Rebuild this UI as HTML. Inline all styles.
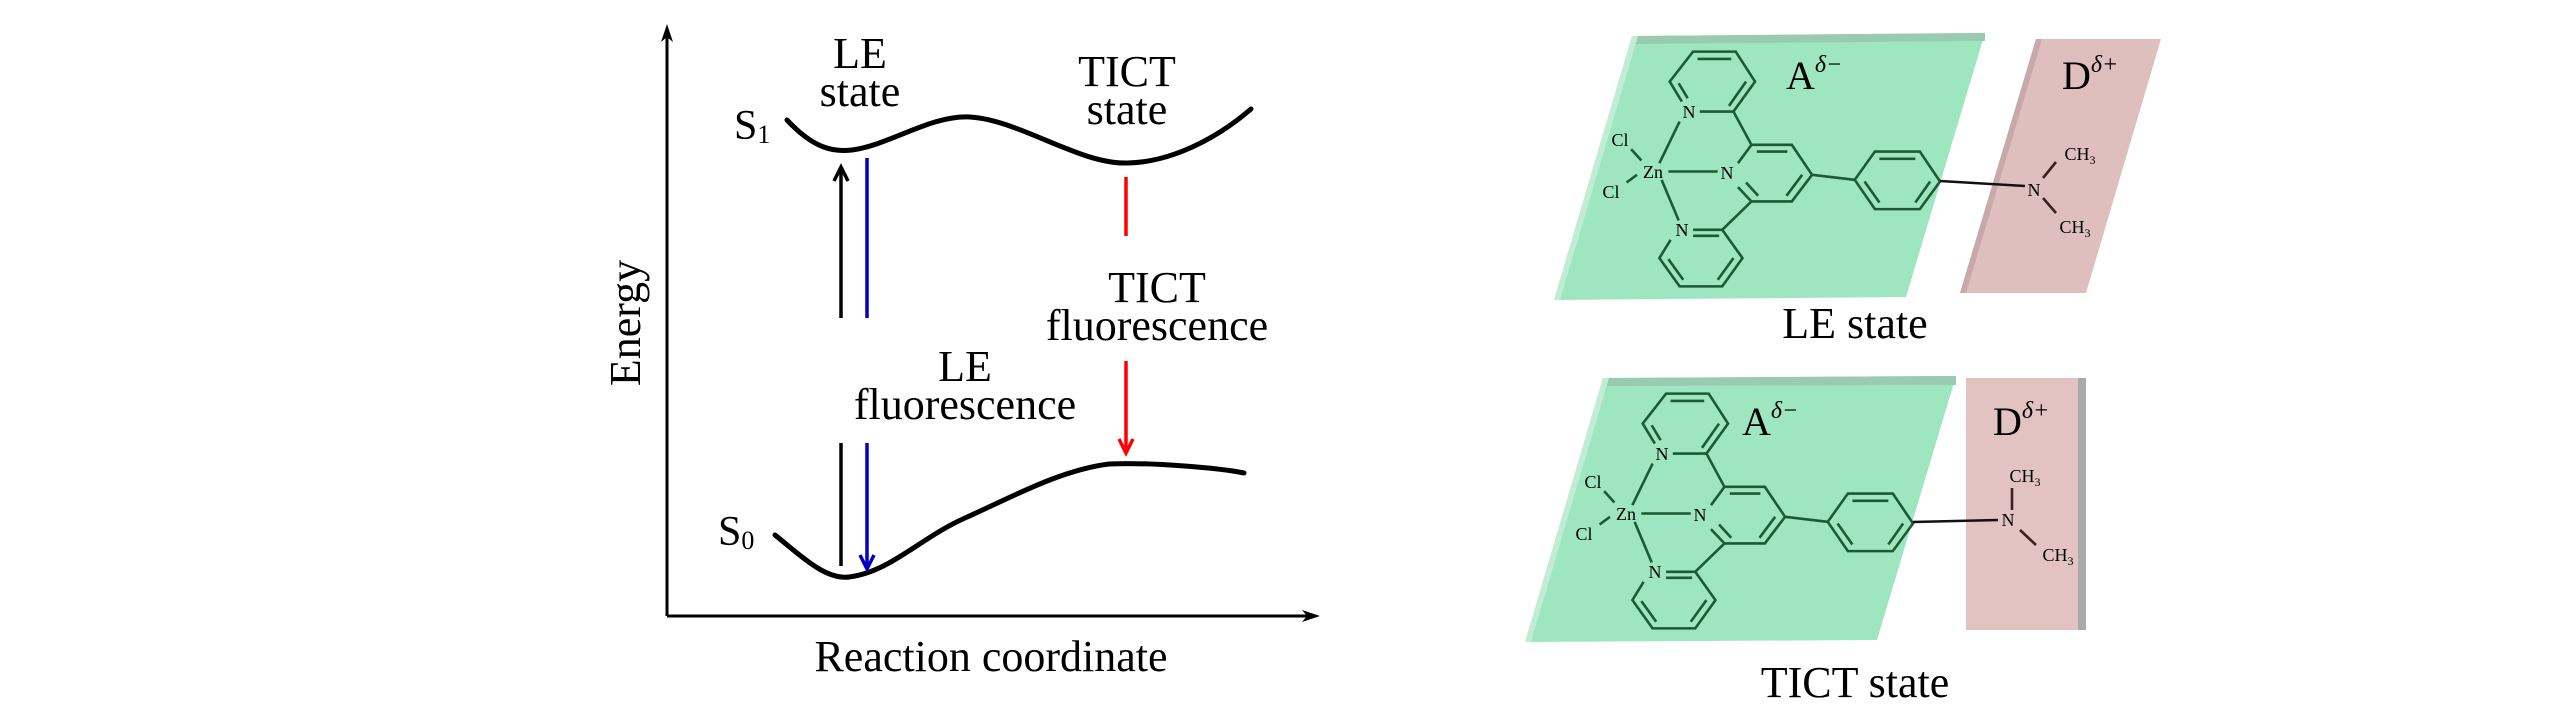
<!DOCTYPE html>
<html><head><meta charset="utf-8"><style>
html,body{margin:0;padding:0;background:#fff;}
svg{display:block;}
text{font-family:"Liberation Serif",serif;fill:#000;}
</style></head><body>
<svg width="2567" height="709" viewBox="0 0 2567 709" xmlns="http://www.w3.org/2000/svg">
<!-- axes -->
<line x1="667" y1="34" x2="667" y2="616" stroke="#000" stroke-width="3"/>
<line x1="667" y1="616" x2="1310" y2="616" stroke="#000" stroke-width="3"/>
<polygon points="667,24 661,42 667,37 673,42" fill="#000"/>
<polygon points="1320,616 1302,610 1307,616 1302,622" fill="#000"/>
<!-- curves -->
<path d="M787,120 C815,150 835,152 852,150 C890,145 930,115 970,117 C1020,120 1080,165 1128,163 C1170,162 1215,140 1251,109" fill="none" stroke="#000" stroke-width="5" stroke-linecap="round"/>
<path d="M775,535 C800,555 825,580 849,577 C890,572 920,538 965,518 C1010,498 1060,470 1109,464 C1150,462 1220,468 1244,473" fill="none" stroke="#000" stroke-width="5" stroke-linecap="round"/>
<!-- transitions -->
<line x1="841" y1="318" x2="841" y2="168" stroke="#000" stroke-width="3.5"/>
<polyline points="834,181 841,167 848,181" fill="none" stroke="#000" stroke-width="3.5"/>
<line x1="867" y1="158" x2="867" y2="318" stroke="#0000c0" stroke-width="3.5"/>
<line x1="841" y1="443" x2="841" y2="566" stroke="#000" stroke-width="3.5"/>
<line x1="867" y1="443" x2="867" y2="568" stroke="#0000c0" stroke-width="3.5"/>
<polyline points="860,555 867,569 874,555" fill="none" stroke="#0000c0" stroke-width="3.5"/>
<line x1="1126" y1="177" x2="1126" y2="236" stroke="#f00" stroke-width="3.5"/>
<line x1="1126" y1="361" x2="1126" y2="452" stroke="#f00" stroke-width="3.5"/>
<polyline points="1119,439 1126,453 1133,439" fill="none" stroke="#f00" stroke-width="3.5"/>
<!-- labels -->
<g font-size="44" text-anchor="middle">
<text x="860" y="68">LE</text><text x="860" y="106">state</text>
<text x="1127" y="86">TICT</text><text x="1127" y="124">state</text>
<text x="1157" y="302">TICT</text><text x="1157" y="340">fluorescence</text>
<text x="965" y="381">LE</text><text x="965" y="419">fluorescence</text>
<text x="991" y="671">Reaction coordinate</text>
<text transform="translate(640,323) rotate(-90)">Energy</text>
</g>
<text x="734" y="139" font-size="42">S<tspan font-size="26" dy="4">1</tspan></text>
<text x="718" y="545" font-size="42">S<tspan font-size="26" dy="4">0</tspan></text>

<!-- upper molecule panes -->
<polygon points="1632,36 1985,33 1906,297 1554,300" fill="#9ee6c0"/>
<polygon points="1632,36 1985,33 1985,41 1630,44" fill="#98cbb0"/>
<polygon points="1632,36 1638,36 1560,300 1554,300" fill="#c2ecd6"/>
<polygon points="2036,39 2161,39 2086,293 1960,293" fill="#dfbfbd"/>
<polygon points="2036,39 2042,39 1966,293 1960,293" fill="#c7a9a9"/>
<!-- lower panes -->
<polygon points="1603,378 1956,376 1877,640 1525,642" fill="#9ee6c0"/>
<polygon points="1603,378 1956,376 1956,385 1601,386" fill="#98cbb0"/>
<polygon points="1603,378 1609,378 1531,642 1525,642" fill="#c2ecd6"/>
<rect x="1966" y="378" width="120" height="252" fill="#e3c3c2"/>
<rect x="2078" y="378" width="8" height="252" fill="#aaa"/>

<defs>
<g id="mol" fill="none" stroke="#1b5a33" stroke-width="2.6">
 <path vector-effect="non-scaling-stroke" d="M445,335 L520,335 L568,245 L525,155 L430,155 L378,245 L405,305 M440,177 L515,177 M548,245 L510,318 M398,250 L418,295"/>
 <path vector-effect="non-scaling-stroke" d="M520,335 L560,435 L650,435 L695,525 L650,605 L560,605 L530,562 M530,490 L560,435 M572,455 L640,455 M673,525 L638,588 M575,588 L548,548"/>
 <path vector-effect="non-scaling-stroke" d="M560,605 L495,690 L540,775 L495,860 L400,860 L355,775 L380,720 M430,690 L495,690 M430,708 L488,708 M520,775 L485,840 M375,778 L408,840"/>
 <path vector-effect="non-scaling-stroke" d="M400,365 L355,490 M375,515 L485,515 M360,540 L398,662 M292,448 L315,482 M282,548 L305,525"/>
 <path vector-effect="non-scaling-stroke" d="M695,525 L790,540 L835,455 L935,455 L980,545 L935,628 L835,628 L790,540 M845,477 L925,477 M958,545 L925,608 M812,545 L845,608"/>
</g>
</defs>
<use href="#mol" transform="translate(1500,0) scale(0.449,0.333)"/>
<use href="#mol" transform="translate(1473,342) scale(0.449,0.333)"/>
<!-- amines -->
<g stroke-width="2.6" fill="none">
<line x1="1940" y1="181" x2="2025" y2="186" stroke="#111"/>
<line x1="2043" y1="178" x2="2056" y2="162" stroke="#3a2020"/>
<line x1="2043" y1="198" x2="2056" y2="213" stroke="#3a2020"/>
<line x1="1913" y1="522" x2="1998" y2="520" stroke="#111"/>
<line x1="2012" y1="510" x2="2012" y2="488" stroke="#3a2020"/>
<line x1="2020" y1="530" x2="2036" y2="545" stroke="#3a2020"/>
</g>
<g font-size="18" text-anchor="middle">
<text x="1689" y="118" fill="#1b5a33">N</text>
<text x="1727" y="179" fill="#1b5a33">N</text>
<text x="1682" y="236" fill="#1b5a33">N</text>
<text x="1653" y="178" fill="#1b5a33">Zn</text>
<text x="1620" y="146" fill="#1b5a33">Cl</text>
<text x="1611" y="198" fill="#1b5a33">Cl</text>
<text x="1662" y="460" fill="#1b5a33">N</text>
<text x="1700" y="521" fill="#1b5a33">N</text>
<text x="1655" y="578" fill="#1b5a33">N</text>
<text x="1626" y="520" fill="#1b5a33">Zn</text>
<text x="1593" y="488" fill="#1b5a33">Cl</text>
<text x="1584" y="540" fill="#1b5a33">Cl</text>
</g>
<g font-size="18" text-anchor="middle">
<text x="2034" y="196" fill="#3a2020">N</text>
<text x="2080" y="160" fill="#3a2020">CH<tspan font-size="12" dy="4">3</tspan></text>
<text x="2075" y="233" fill="#3a2020">CH<tspan font-size="12" dy="4">3</tspan></text>
<text x="2008" y="526" fill="#3a2020">N</text>
<text x="2025" y="482" fill="#3a2020">CH<tspan font-size="12" dy="4">3</tspan></text>
<text x="2058" y="561" fill="#3a2020">CH<tspan font-size="12" dy="4">3</tspan></text>
</g>
<!-- A / D labels -->
<text x="1786" y="89" font-size="40">A<tspan font-size="24" font-style="italic" dy="-17">δ−</tspan></text>
<text x="2062" y="89" font-size="40">D<tspan font-size="24" font-style="italic" dy="-17">δ+</tspan></text>
<text x="1742" y="435" font-size="40">A<tspan font-size="24" font-style="italic" dy="-17">δ−</tspan></text>
<text x="1993" y="435" font-size="40">D<tspan font-size="24" font-style="italic" dy="-17">δ+</tspan></text>
<text x="1855" y="338" font-size="44" text-anchor="middle">LE state</text>
<text x="1855" y="697" font-size="44" text-anchor="middle">TICT state</text>
</svg>
</body></html>
